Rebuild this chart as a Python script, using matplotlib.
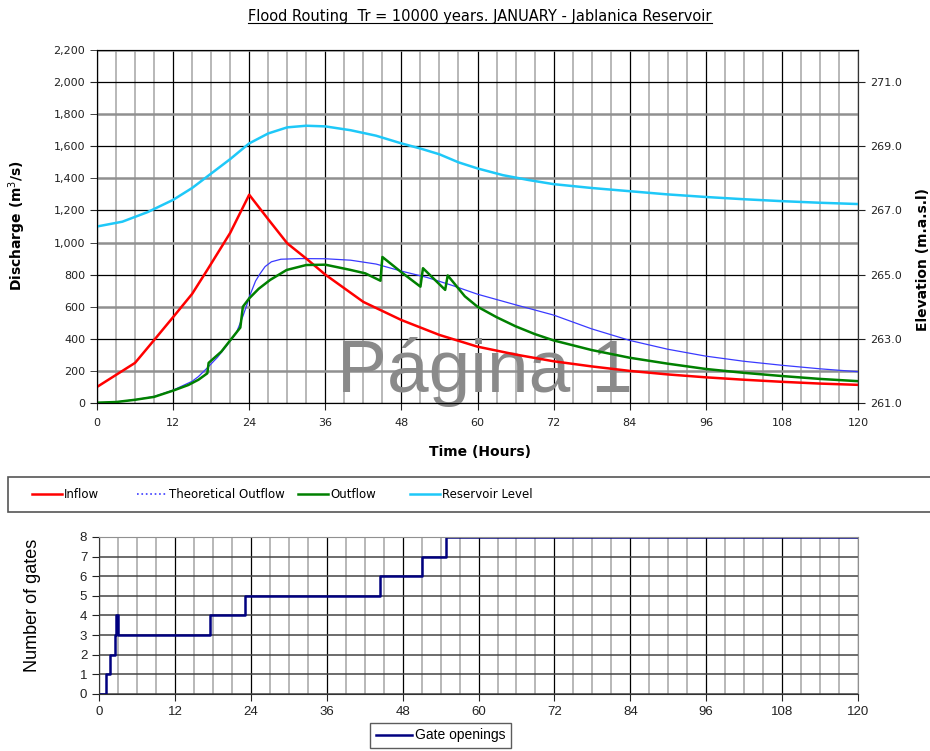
import matplotlib.pyplot as plt
from matplotlib.lines import Line2D
from matplotlib.patches import Rectangle
from matplotlib.ticker import MultipleLocator, FuncFormatter, FormatStrFormatter

# --- data ---
# Inflow hydrograph (m3/s)
t_in = [0, 3, 6, 9, 12, 15, 17.4, 21, 24, 27, 30, 33, 36, 42, 48, 54, 60,
        66, 72, 78, 84, 90, 96, 102, 108, 114, 120]
q_in = [100, 175, 250, 392, 535, 680, 830, 1060, 1298, 1145, 995, 900, 800,
        630, 517, 424, 351, 302, 260, 228, 200, 178, 160, 145, 132, 121, 113]

# Theoretical outflow (m3/s)
t_th = [0, 3, 6, 9, 12, 15, 16, 17.3, 19, 20.5, 22, 23, 23.7, 24, 25, 25.7,
        26.5, 27.5, 29, 32, 36, 40, 44, 48, 52, 56, 60, 66, 72, 78, 84, 90,
        96, 102, 108, 114, 120]
q_th = [0, 6, 20, 40, 80, 135, 165, 215, 285, 360, 440, 540, 620, 660, 760,
        805, 850, 880, 896, 900, 899, 890, 866, 822, 783, 733, 678, 612, 548,
        462, 390, 335, 292, 260, 235, 213, 195]

# Outflow (m3/s), with the jumps when a gate opens
t_out = [0, 3, 6, 9, 12, 14.4, 16, 17.4, 17.6, 19.6, 21, 22.6, 23.0, 24,
         25.5, 27.3, 29.9, 33, 36, 39.9, 42.3, 44.7, 45.0, 48, 51.0, 51.4,
         54.9, 55.3, 58, 60, 63, 66, 69, 72, 78, 84, 90, 96, 102, 108, 114, 120]
q_out = [2, 6, 20, 38, 77, 112, 145, 185, 250, 320, 390, 470, 600, 652, 712,
         767, 829, 860, 862, 830, 808, 762, 910, 815, 725, 840, 705, 795, 665,
         600, 535, 478, 430, 390, 330, 282, 245, 212, 188, 168, 150, 136]

# Reservoir level (m.a.s.l)
t_lv = [0, 4, 8, 12, 15, 18, 21, 24, 27, 30, 33, 36, 40, 44, 48, 51, 54, 57,
        60, 64, 68, 72, 78, 84, 90, 96, 102, 108, 114, 120]
e_lv = [266.5, 266.65, 266.95, 267.33, 267.7, 268.15, 268.6, 269.09, 269.4,
        269.59, 269.64, 269.62, 269.5, 269.33, 269.09, 268.93, 268.75, 268.5,
        268.31, 268.1, 267.95, 267.82, 267.7, 267.6, 267.5, 267.42, 267.35,
        267.29, 267.24, 267.2]

# Number of open gates (step function)
gate_t = [0, 1.15, 1.75, 2.5, 2.7, 3.05, 17.5, 23.0, 44.5, 51.1, 54.8, 120]
gate_n = [0, 1, 2, 3, 4, 3, 4, 5, 6, 7, 8, 8]

title = 'Flood Routing  Tr = 10000 years. JANUARY - Jablanica Reservoir'
legend_labels = ['Inflow', 'Theoretical Outflow', 'Outflow', 'Reservoir Level']

fig = plt.figure(figsize=(9.3, 7.51), dpi=100)

# ---------------- upper chart ----------------
ax1 = fig.add_axes([0.1043, 0.4634, 0.8183, 0.47])
ax1.set_xlim(0, 120)
ax1.set_ylim(0, 2200)
ax1.xaxis.set_major_locator(MultipleLocator(12))
ax1.xaxis.set_minor_locator(MultipleLocator(3))
ax1.yaxis.set_major_locator(MultipleLocator(400))
ax1.yaxis.set_minor_locator(MultipleLocator(400, offset=200))
thousands = FuncFormatter(lambda v, p: f'{v:,.0f}')
ax1.yaxis.set_major_formatter(thousands)
ax1.yaxis.set_minor_formatter(thousands)
ax1.tick_params(axis='y', which='both', length=5, labelsize=8, colors='#222222')
ax1.tick_params(axis='x', which='major', length=5, labelsize=8, colors='#222222', pad=6)
ax1.tick_params(axis='x', which='minor', length=0)

ax1.grid(axis='x', which='minor', color='#b8b8b8', lw=1.4)
ax1.grid(axis='x', which='major', color='black', lw=0.9)
ax1.grid(axis='y', which='minor', color='#909090', lw=1.8)
ax1.grid(axis='y', which='major', color='black', lw=0.9)
ax1.set_axisbelow(True)
for s in ax1.spines.values():
    s.set_color('#333333')
ax1.spines['top'].set_color('#909090')

ax1.text(0.51, 0.03, 'Página 1', transform=ax1.transAxes, ha='center',
         va='baseline', fontsize=54, family='Liberation Sans',
         color='#8a8a8a', zorder=1)

ax1.plot(t_th, q_th, color='#3a3aff', lw=0.9, zorder=2.5)
ax1.plot(t_in, q_in, color='#ff0000', lw=1.8, zorder=3)
ax1.plot(t_out, q_out, color='#008000', lw=1.8, zorder=3)

ax2 = ax1.twinx()
ax2.set_ylim(261, 272)
ax2.yaxis.set_major_locator(MultipleLocator(2, offset=1))
ax2.yaxis.set_major_formatter(FormatStrFormatter('%.1f'))
ax2.tick_params(axis='y', length=5, labelsize=8, colors='#222222')
ax2.spines['right'].set_color('#333333')
ax2.plot(t_lv, e_lv, color='#1ec8f8', lw=1.8)

fig.text(0.019, 0.70, 'Discharge (m$^3$/s)', rotation=90, ha='center',
         va='center', fontsize=10, fontweight='bold')
fig.text(0.9925, 0.655, 'Elevation (m.a.s.l)', rotation=90, ha='center',
         va='center', fontsize=10, fontweight='bold')
fig.text(0.516, 0.398, 'Time (Hours)', ha='center', va='center',
         fontsize=10, fontweight='bold')

ttl = fig.text(0.516, 0.978, title, ha='center', va='center', fontsize=10.5)

# legend strip under the upper chart (box runs past the right edge)
fig.add_artist(Rectangle((0.0086, 0.3182), 1.0, 0.0466, transform=fig.transFigure,
                         facecolor='white', edgecolor='#555555', lw=1.2))
handles = [Line2D([], [], color='#ff0000', lw=1.8),
           Line2D([], [], color='#3a3aff', lw=1.2, ls=':'),
           Line2D([], [], color='#008000', lw=1.8),
           Line2D([], [], color='#1ec8f8', lw=1.8)]
leg_x = [32, 137, 298, 410]
for h, lab, x in zip(handles, legend_labels, leg_x):
    fig.legend([h], [lab], loc='center left', bbox_to_anchor=(x / 930, 0.3415),
               frameon=False, borderpad=0, borderaxespad=0,
               handlelength=2.5, handletextpad=0.2, fontsize=8.5)

# ---------------- lower chart: gates ----------------
axg = fig.add_axes([0.1065, 0.0759, 0.8161, 0.2091])
axg.set_xlim(0, 120)
axg.set_ylim(0, 8)
axg.xaxis.set_major_locator(MultipleLocator(12))
axg.xaxis.set_minor_locator(MultipleLocator(3))
axg.yaxis.set_major_locator(MultipleLocator(1))
axg.tick_params(axis='both', which='major', length=5, labelsize=9.5, colors='#222222')
axg.tick_params(axis='x', which='minor', length=0)
for lab in axg.get_xticklabels() + axg.get_yticklabels():
    lab.set_family('Liberation Sans')
axg.grid(axis='x', which='minor', color='#b8b8b8', lw=1.4)
axg.grid(axis='x', which='major', color='black', lw=0.9)
axg.grid(axis='y', which='major', color='#444444', lw=1.1)
axg.set_axisbelow(True)
for s in axg.spines.values():
    s.set_color('#333333')
axg.spines['top'].set_color('#909090')
axg.spines['right'].set_color('#909090')

gl, = axg.plot(gate_t, gate_n, drawstyle='steps-post', color='#000080', lw=1.8)
fig.text(0.035, 0.194, 'Number of gates', rotation=90, ha='center',
         va='center', fontsize=13, family='Liberation Sans')
fig.legend([gl], ['Gate openings'], loc='lower left',
           bbox_to_anchor=(0.398, 0.004), borderaxespad=0, fancybox=False,
           edgecolor='#333333', handlelength=2.6, handletextpad=0.2,
           prop={'family': 'Liberation Sans', 'size': 10})

# underline the title
fig.canvas.draw()
bb = ttl.get_window_extent().transformed(fig.transFigure.inverted())
fig.add_artist(Line2D([bb.x0, bb.x1], [bb.y0 + 0.001, bb.y0 + 0.001],
                      transform=fig.transFigure, color='black', lw=0.8))

plt.savefig('out.png', dpi=100)
